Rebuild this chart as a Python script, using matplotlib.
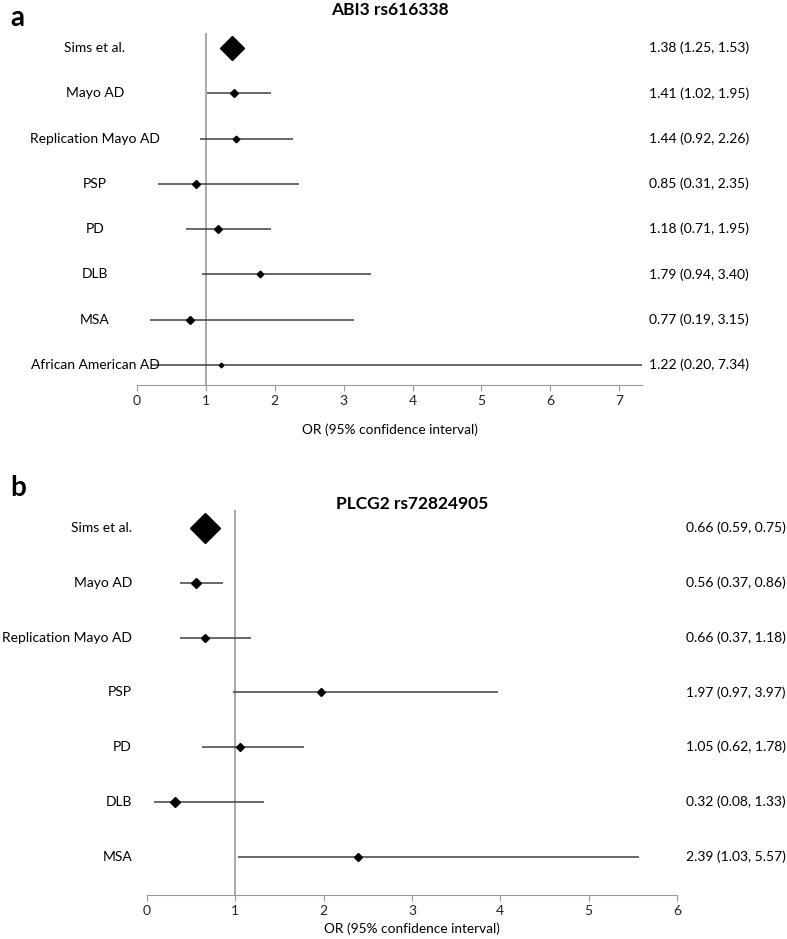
import matplotlib
matplotlib.use("Agg")
import matplotlib.pyplot as plt

plt.rcParams["font.family"] = ["Lato", "DejaVu Sans"]

W, H = 787, 939

# panel a: ABI3 rs616338
a_labels = ["Sims et al.", "Mayo AD", "Replication Mayo AD", "PSP", "PD", "DLB", "MSA",
            "African American AD"]
a_or = [1.38, 1.41, 1.44, 0.85, 1.18, 1.79, 0.77, 1.22]
a_lo = [1.25, 1.02, 0.92, 0.31, 0.71, 0.94, 0.19, 0.20]
a_hi = [1.53, 1.95, 2.26, 2.35, 1.95, 3.40, 3.15, 7.34]
a_size = [12.7, 4.1, 3.4, 3.8, 4.0, 3.4, 3.7, 2.4]

# panel b: PLCG2 rs72824905
b_labels = ["Sims et al.", "Mayo AD", "Replication Mayo AD", "PSP", "PD", "DLB", "MSA"]
b_or = [0.66, 0.56, 0.66, 1.97, 1.05, 0.32, 2.39]
b_lo = [0.59, 0.37, 0.37, 0.97, 0.62, 0.08, 1.03]
b_hi = [0.75, 0.86, 1.18, 3.97, 1.78, 1.33, 5.57]
b_size = [15.3, 4.8, 3.7, 4.0, 4.2, 5.1, 4.0]


def px_axes(fig, left, top, right, bottom):
    return fig.add_axes([left / W, 1 - bottom / H, (right - left) / W, (bottom - top) / H])


def forest(fig, ax, labels, ors, los, his, sizes, xmax, xticks, ylim,
           label_x, label_ha, text_x, xlabel_y):
    ax.set_xlim(0, xmax)
    ax.set_ylim(*ylim)
    to_fig = fig.transFigure.inverted()
    for i in range(len(labels)):
        ax.plot([los[i], min(his[i], xmax)], [i, i], color="#404040", lw=1.1,
                solid_capstyle="butt", zorder=2)
        ax.plot(ors[i], i, marker="D", color="black", markersize=sizes[i], zorder=3)
        y_fig = to_fig.transform(ax.transData.transform((0, i)))[1]
        fig.text(label_x / W, y_fig, labels[i], ha=label_ha, va="center", fontsize=10)
        fig.text(text_x / W, y_fig, f"{ors[i]:.2f} ({los[i]:.2f}, {his[i]:.2f})",
                 ha="right", va="center", fontsize=10)
    ax.axvline(1, color="#999999", lw=1.2, zorder=1)
    ax.set_xticks(xticks)
    ax.set_yticks([])
    for s in ["top", "right", "left"]:
        ax.spines[s].set_visible(False)
    ax.spines["bottom"].set_color("#999999")
    ax.tick_params(axis="x", colors="#999999", length=4, labelsize=10, labelcolor="#222222")
    ax.patch.set_alpha(0)
    pos = ax.get_position()
    fig.text((pos.x0 + pos.x1) / 2, 1 - xlabel_y / H, "OR (95% confidence interval)",
             ha="center", va="center", fontsize=9.8)


fig = plt.figure(figsize=(W / 100, H / 100), dpi=100)

ax_a = px_axes(fig, 137, 33, 642, 385)
forest(fig, ax_a, a_labels, a_or, a_lo, a_hi, a_size, 7.33, range(0, 8),
       (7.44, -0.33), 95, "center", 749, 430)

ax_b = px_axes(fig, 147, 510, 677, 895)
forest(fig, ax_b, b_labels, b_or, b_lo, b_hi, b_size, 6, range(0, 7),
       (6.7, -0.33), 132, "right", 786, 929)

fig.text(390 / W, 1 - 10 / H, "ABI3 rs616338", ha="center", va="center",
         fontsize=12.5, fontweight="bold")
fig.text(412 / W, 1 - 504 / H, "PLCG2 rs72824905", ha="center", va="center",
         fontsize=12.5, fontweight="bold")
fig.text(10 / W, 1 - 18 / H, "a", ha="left", va="center", fontsize=20, fontweight="bold")
fig.text(10 / W, 1 - 488 / H, "b", ha="left", va="center", fontsize=20, fontweight="bold")

fig.savefig("out.png", dpi=100)
